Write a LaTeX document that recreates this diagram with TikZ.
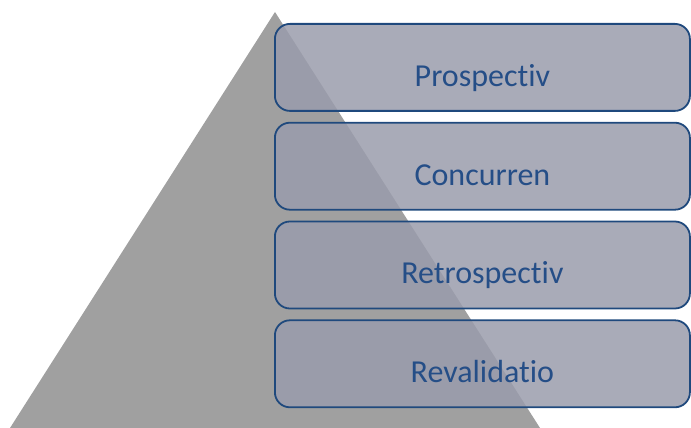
\documentclass[tikz,border=0pt]{standalone}
\usepackage{fontspec}
\setmainfont{Carlito}[Ligatures=NoCommon]
\usetikzlibrary{positioning}

\definecolor{stepfill}{RGB}{154,156,172}
\definecolor{stepline}{RGB}{31,73,125}
\definecolor{steptext}{RGB}{37,78,135}
\definecolor{pyramid}{RGB}{160,160,160}

\begin{document}
\begin{tikzpicture}[x=1pt, y=1pt,
    level/.style={draw=stepline, line width=1.8pt, fill=stepfill,
      fill opacity=0.85, text opacity=1, rounded corners=15pt,
      minimum width=415pt, minimum height=87pt, inner sep=0pt,
      text height=44pt, text depth=6pt,
      text=steptext, font=\fontsize{32}{38}\selectfont}]
    \useasboundingbox (0,0) rectangle (691,428);

    % Pyramid
    \coordinate (A) at (275,416);
    \coordinate (L) at (10,0);
    \coordinate (R) at (540,0);
    \fill[pyramid] (L) -- (A) -- (R) -- cycle;

    % Levels
    \node[level, anchor=north west] (pro) at (274,405) {Prospectiv};
    \node[level, below=10pt of pro] (con) {Concurren};
    \node[level, below=10pt of con] (ret) {Retrospectiv};
    \node[level, below=10pt of ret] (rev) {Revalidatio};
\end{tikzpicture}
\end{document}
